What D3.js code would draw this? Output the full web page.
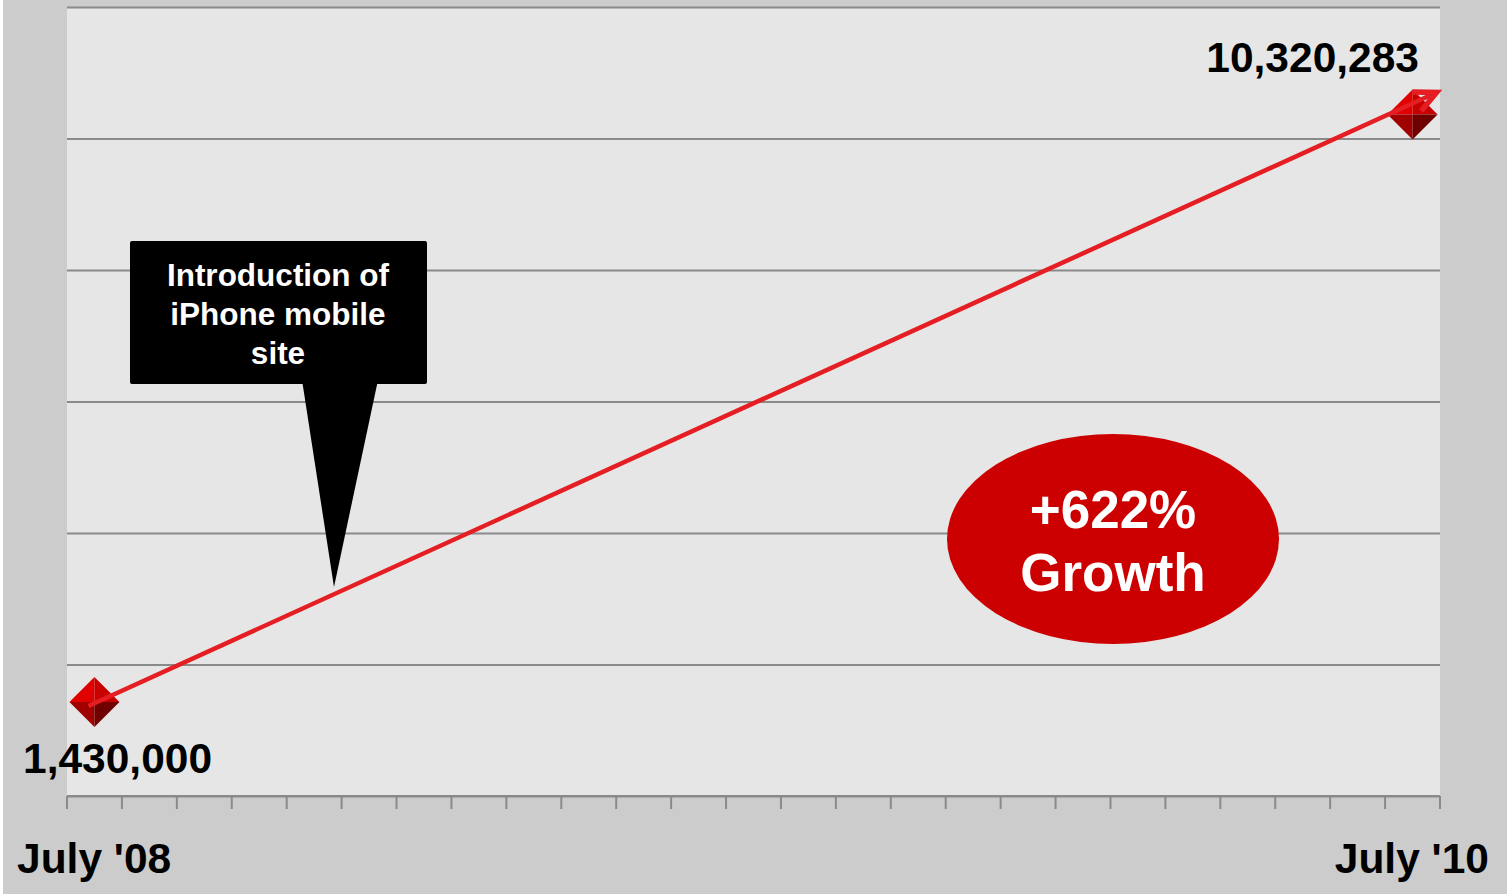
<!DOCTYPE html>
<html lang="en">
<head>
<meta charset="utf-8">
<title>iPhone mobile site growth</title>
<script src="https://cdn.jsdelivr.net/npm/d3@7/dist/d3.min.js" charset="utf-8"></script>
<style>
  body { margin: 0; background: #ffffff; }
  svg { display: block; font-family: "Liberation Sans", Arial, sans-serif; }
</style>
</head>
<body>
<script type="text/javascript">

// 25 monthly categories, July '08 .. July '10
var months = ["Jul 08", "Aug 08", "Sep 08", "Oct 08", "Nov 08", "Dec 08",
              "Jan 09", "Feb 09", "Mar 09", "Apr 09", "May 09", "Jun 09",
              "Jul 09", "Aug 09", "Sep 09", "Oct 09", "Nov 09", "Dec 09",
              "Jan 10", "Feb 10", "Mar 10", "Apr 10", "May 10", "Jun 10", "Jul 10"];
var pointMonths = ["Jul 08", "Jul 10"];
var pointValues = [1430000, 10320283];
var pointLabels = ["1,430,000", "10,320,283"];
var axisLabels = ["July '08", "July '10"];
var yTicks = [0, 2000000, 4000000, 6000000, 8000000, 10000000, 12000000];
var calloutLines = ["Introduction of", "iPhone mobile", "site"];
var growthLines = ["+622%", "Growth"];

var width = 1511;
var height = 894;
var plot = {left: 67, right: 1440, top: 7, bottom: 796};

var svg = d3.select("body").append("svg")
            .attr("width", width)
            .attr("height", height);

// outer gray frame (thin white strips left and right)
svg.append("rect")
   .attr("x", 3).attr("y", 0)
   .attr("width", 1504).attr("height", height)
   .attr("fill", "#cccccc");

svg.append("rect")
   .attr("x", plot.left).attr("y", plot.top)
   .attr("width", plot.right - plot.left).attr("height", plot.bottom - plot.top)
   .attr("fill", "#e6e6e6");

var x = d3.scaleBand().domain(months).range([plot.left, plot.right]);
var y = d3.scaleLinear().domain([0, 12000000]).range([plot.bottom, plot.top]);

// gridlines
svg.append("g")
   .attr("transform", "translate(" + plot.left + ",0)")
   .call(d3.axisLeft(y).tickValues(yTicks).tickSize(-(plot.right - plot.left)).tickFormat(""))
   .call(function(g) {
     g.select(".domain").remove();
     g.selectAll("line").attr("stroke", "#8a8a8a").attr("stroke-width", 2);
   });

// bottom axis with tick marks at category boundaries
var boundaries = months.map(function(m) { return x(m); }).concat([plot.right]);
var xAxis = svg.append("g");
xAxis.append("line")
     .attr("x1", plot.left).attr("x2", plot.right)
     .attr("y1", plot.bottom).attr("y2", plot.bottom)
     .attr("stroke", "#8a8a8a").attr("stroke-width", 2);
xAxis.selectAll("line.tick")
     .data(boundaries)
     .enter().append("line")
     .attr("class", "tick")
     .attr("x1", function(d) { return d; }).attr("x2", function(d) { return d; })
     .attr("y1", plot.bottom).attr("y2", plot.bottom + 13)
     .attr("stroke", "#8a8a8a").attr("stroke-width", 2);

// category labels (first and last)
svg.append("text")
   .attr("x", 17).attr("y", 873)
   .attr("font-size", 42.5).attr("font-weight", "bold").attr("fill", "#000")
   .text(axisLabels[0]);
svg.append("text")
   .attr("x", 1489).attr("y", 873)
   .attr("text-anchor", "end")
   .attr("font-size", 42.5).attr("font-weight", "bold").attr("fill", "#000")
   .text(axisLabels[1]);

// diamond markers with faceted shading
var pts = pointMonths.map(function(m, i) {
  return {cx: x(m) + x.bandwidth() / 2, cy: y(pointValues[i]), label: pointLabels[i]};
});
pts[1].cy -= 3;
var r = 25;
var facets = [
  {fill: "#e00000", pts: function(c) { return [[c.cx - r, c.cy], [c.cx, c.cy - r], [c.cx, c.cy]]; }},
  {fill: "#c80000", pts: function(c) { return [[c.cx, c.cy - r], [c.cx + r, c.cy], [c.cx, c.cy]]; }},
  {fill: "#a00000", pts: function(c) { return [[c.cx - r, c.cy], [c.cx, c.cy + r], [c.cx, c.cy]]; }},
  {fill: "#700000", pts: function(c) { return [[c.cx + r, c.cy], [c.cx, c.cy + r], [c.cx, c.cy]]; }}
];
pts.forEach(function(c) {
  var g = svg.append("g");
  facets.forEach(function(f) {
    g.append("path")
     .attr("d", d3.line()(f.pts(c)) + "Z")
     .attr("fill", f.fill);
  });
});

// data labels
svg.append("text")
   .attr("x", 23).attr("y", 773)
   .attr("font-size", 42.5).attr("font-weight", "bold").attr("fill", "#000")
   .text(pts[0].label);
svg.append("text")
   .attr("x", 1419).attr("y", 72)
   .attr("text-anchor", "end")
   .attr("font-size", 42.5).attr("font-weight", "bold").attr("fill", "#000")
   .text(pts[1].label);

// growth arrow
var a0 = [pts[0].cx - 6, pts[0].cy + 4];
var a1 = [pts[1].cx + 24, pts[1].cy - 22];
var ang = Math.atan2(a1[1] - a0[1], a1[0] - a0[0]);
var headLen = 24, headAng = 0.45;
svg.append("line")
   .attr("x1", a0[0]).attr("y1", a0[1])
   .attr("x2", a1[0] - 3 * Math.cos(ang)).attr("y2", a1[1] - 3 * Math.sin(ang))
   .attr("stroke", "#e41e22").attr("stroke-width", 4.5);
svg.append("path")
   .attr("d", d3.line()([
     [a1[0] - headLen * Math.cos(ang - headAng), a1[1] - headLen * Math.sin(ang - headAng)],
     a1,
     [a1[0] - headLen * Math.cos(ang + headAng), a1[1] - headLen * Math.sin(ang + headAng)]
   ]))
   .attr("fill", "none")
   .attr("stroke", "#e41e22").attr("stroke-width", 5.5)
   .attr("stroke-linejoin", "miter");

// callout box
svg.append("path")
   .attr("d", "M302,380 L378,380 L334,587 Z")
   .attr("fill", "#000");
svg.append("rect")
   .attr("x", 130).attr("y", 241)
   .attr("width", 297).attr("height", 143)
   .attr("rx", 2)
   .attr("fill", "#000");
svg.append("g")
   .selectAll("text")
   .data(calloutLines)
   .enter().append("text")
   .attr("x", 278)
   .attr("y", function(d, i) { return 286 + i * 39; })
   .attr("text-anchor", "middle")
   .attr("font-size", 31.5).attr("font-weight", "bold").attr("fill", "#fff")
   .text(function(d) { return d; });

// growth ellipse
svg.append("ellipse")
   .attr("cx", 1113).attr("cy", 539)
   .attr("rx", 166).attr("ry", 105)
   .attr("fill", "#cc0000");
svg.append("g")
   .selectAll("text")
   .data(growthLines)
   .enter().append("text")
   .attr("x", 1113)
   .attr("y", function(d, i) { return 528 + i * 63; })
   .attr("text-anchor", "middle")
   .attr("font-size", 53).attr("font-weight", "bold").attr("fill", "#fff")
   .text(function(d) { return d; });

</script>
</body>
</html>
